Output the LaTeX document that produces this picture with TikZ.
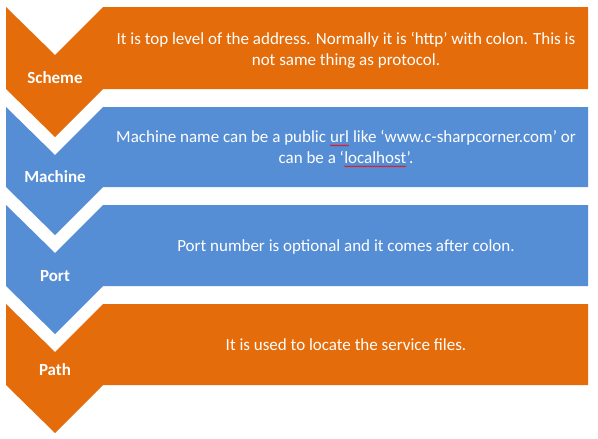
\documentclass[tikz,border=0pt]{standalone}
\usepackage{fontspec}
\setmainfont{Carlito}
\usetikzlibrary{decorations.pathmorphing}
\definecolor{orangeC}{RGB}{228,108,10}
\definecolor{blueC}{RGB}{85,142,213}
\newcommand\squig[1]{\tikz[baseline=(w.base)]{\node[inner sep=0pt,outer sep=0pt,text=white](w){#1};\draw[red,line width=0.5pt,decorate,decoration={snake,amplitude=0.6pt,segment length=2pt}] ([yshift=-2.5pt]w.base west)--([yshift=-2.5pt]w.base east);}}
\tikzset{
  desc/.style={text=white,align=center,font=\fontsize{17}{21}\selectfont,inner sep=0pt},
  lab/.style={text=white,font=\bfseries\fontsize{17}{20}\selectfont,inner sep=0pt}
}
\newcommand\chevshape[3]{% color, top, bottom
  \fill[#1] (6,#2) -- (55,#2+48) -- (103,#2) -- (588,#2) -- (588,#3) -- (103,#3) -- (55,#3+48) -- (6,#3) -- cycle;}
\begin{document}
\begin{tikzpicture}[x=1pt,y=-1pt]
\useasboundingbox (0,0) rectangle (598,439);
\fill[white] (0,0) rectangle (598,439);
\chevshape{orangeC}{7}{89}
\chevshape{blueC}{107}{187}
\chevshape{blueC}{205}{286}
\chevshape{orangeC}{304}{385}
\node[lab] (lscheme) at (55,78) {Scheme};
\node[lab] (lmachine) at (55,177) {Machine};
\node[lab] (lport) at (55,276) {Port};
\node[lab] (lpath) at (55,370) {Path};
\node[desc] (tscheme) at (346,50) {It is top level of the address. Normally it is ‘http’ with colon. This is\\not same thing as protocol.};
\node[desc] (tmachine) at (346,149) {Machine name can be a public \squig{url} like ‘www.c-sharpcorner.com’ or\\can be a ‘\squig{localhost}’.};
\node[desc] (tport) at (346,247) {Port number is optional and it comes after colon.};
\node[desc] (tpath) at (346,345) {It is used to locate the service files.};
\end{tikzpicture}
\end{document}
